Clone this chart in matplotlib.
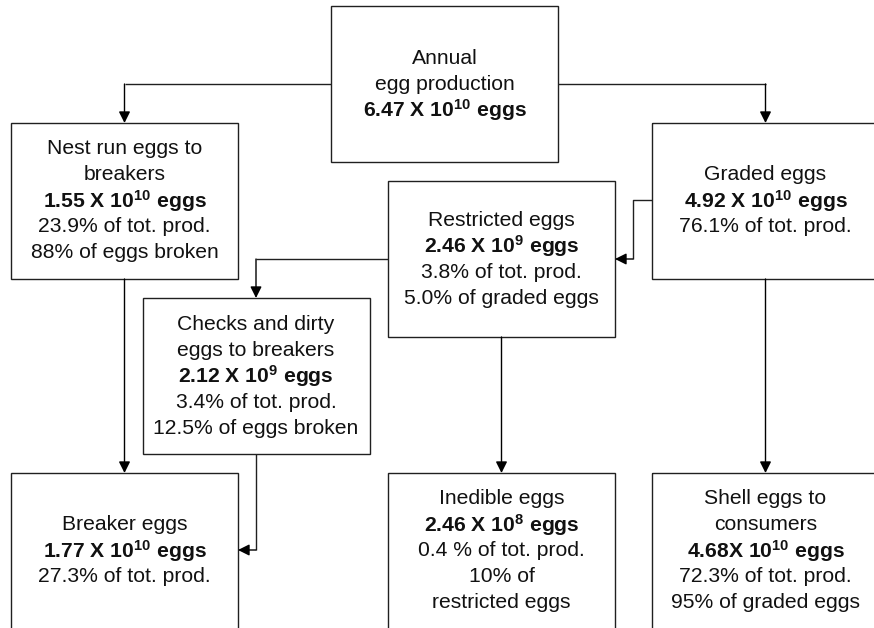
import matplotlib
matplotlib.use("Agg")
import matplotlib.pyplot as plt
from matplotlib.patches import Rectangle

plt.rcParams.update({
    "font.family": "Liberation Sans",
    "mathtext.fontset": "custom",
    "mathtext.rm": "Liberation Sans",
    "mathtext.bf": "Liberation Sans:bold",
    "mathtext.it": "Liberation Sans:italic",
})

# box contents (bold lines written as mathtext so the exponent can be a superscript)
ANNUAL = ["Annual", "egg production", r"$\mathbf{6.47\ X\ 10^{10}\ eggs}$"]
NEST_RUN = ["Nest run eggs to", "breakers", r"$\mathbf{1.55\ X\ 10^{10}\ eggs}$",
            "23.9% of tot. prod.", "88% of eggs broken"]
GRADED = ["Graded eggs", r"$\mathbf{4.92\ X\ 10^{10}\ eggs}$", "76.1% of tot. prod."]
RESTRICTED = ["Restricted eggs", r"$\mathbf{2.46\ X\ 10^{9}\ eggs}$",
              "3.8% of tot. prod.", "5.0% of graded eggs"]
CHECKS = ["Checks and dirty", "eggs to breakers", r"$\mathbf{2.12\ X\ 10^{9}\ eggs}$",
          "3.4% of tot. prod.", "12.5% of eggs broken"]
BREAKER = ["Breaker eggs", r"$\mathbf{1.77\ X\ 10^{10}\ eggs}$", "27.3% of tot. prod."]
INEDIBLE = ["Inedible eggs", r"$\mathbf{2.46\ X\ 10^{8}\ eggs}$", "0.4 % of tot. prod.",
            "10% of", "restricted eggs"]
SHELL = ["Shell eggs to", "consumers", r"$\mathbf{4.68X\ 10^{10}\ eggs}$",
         "72.3% of tot. prod.", "95% of graded eggs"]

W, H = 874, 628
BW, BH = 227, 156
LINE = 26
FS = 15.2
EDGE = "#202020"

fig = plt.figure(figsize=(W / 100, H / 100), dpi=100)
ax = fig.add_axes([0, 0, 1, 1])
ax.set_xlim(0, W)
ax.set_ylim(H, 0)
ax.axis("off")


def box(cx, top, lines):
    ax.add_patch(Rectangle((cx - BW / 2, top), BW, BH, fill=False,
                           edgecolor=EDGE, linewidth=1.0))
    cy = top + BH / 2
    n = len(lines)
    for i, s in enumerate(lines):
        y = cy + (i - (n - 1) / 2) * LINE
        ax.text(cx, y, s, ha="center", va="center", fontsize=FS, color="#111111")


def connector(pts):
    xs = [p[0] for p in pts]
    ys = [p[1] for p in pts]
    ax.plot(xs[:-1], ys[:-1], color=EDGE, linewidth=1.0, solid_capstyle="butt")
    ax.annotate("", xy=pts[-1], xytext=pts[-2],
                arrowprops=dict(arrowstyle="-|>", color="black", lw=1.0,
                                mutation_scale=17, shrinkA=0, shrinkB=0))


box(444.5, 6, ANNUAL)
box(124.5, 123, NEST_RUN)
box(765.5, 123, GRADED)
box(501.5, 181, RESTRICTED)
box(256, 298, CHECKS)
box(124.5, 473, BREAKER)
box(501.5, 473, INEDIBLE)
box(765.5, 473, SHELL)

connector([(331, 84), (124.5, 84), (124.5, 123)])
connector([(558, 84), (765.5, 84), (765.5, 123)])
connector([(652, 200), (633, 200), (633, 259), (615, 259)])
connector([(388, 259), (256, 259), (256, 298)])
connector([(124.5, 279), (124.5, 473)])
connector([(256, 454), (256, 550), (238, 550)])
connector([(501.5, 337), (501.5, 473)])
connector([(765.5, 279), (765.5, 473)])

fig.savefig("out.png", dpi=100)
